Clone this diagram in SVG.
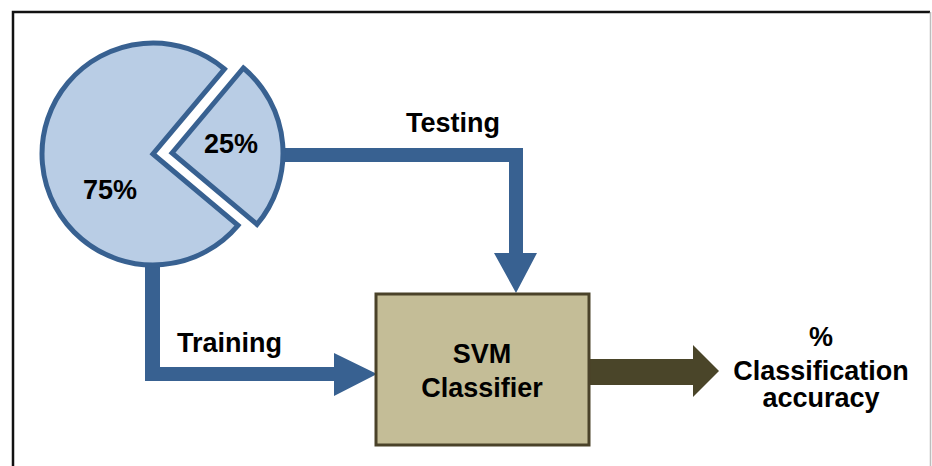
<svg xmlns="http://www.w3.org/2000/svg" width="932" height="466" viewBox="0 0 932 466">
<style>
.lbl{font-family:"Liberation Sans",Arial,sans-serif;font-weight:bold;font-size:27px;fill:#000}
.mid{text-anchor:middle}
.pie{fill:#b9cde5;stroke:#386191;stroke-width:5;stroke-linejoin:miter}
.blue{fill:#386191}
</style>
<rect x="0" y="0" width="932" height="466" fill="#fff"/>
<g id="frame">
<path d="M13,466 V12 H930" fill="none" stroke="#111" stroke-width="2.5"/>
<line x1="930.5" y1="12" x2="930.5" y2="466" stroke="#bdbdbd" stroke-width="1.5"/>
</g>
<g id="connectors">
<path class="blue" d="M278,148 H523 V253 H537 L516,293 L494,253 H509 V162 H278 Z"/>
<path class="blue" d="M145,258 H160 V367 H334 V353 L377,374 L334,396 V381 H145 Z"/>
<path d="M585,359 H693 V345 L719,371 L693,397 V385 H585 Z" fill="#4a4529"/>
</g>
<g id="pie">
<path class="pie" d="M153,154 L238,225.4 A111,111 0 1,1 224.4,69 Z"/>
<path class="pie" d="M172,153 L243.4,68 A111,111 0 0,1 257,224.4 Z"/>
<text class="lbl" x="83" y="199">75%</text>
<text class="lbl" x="204" y="153">25%</text>
</g>
<g id="labels">
<text class="lbl" x="406" y="132">Testing</text>
<text class="lbl" x="177" y="352">Training</text>
</g>
<g id="svm">
<rect x="376" y="294" width="213" height="151" fill="#c4bd97" stroke="#4a4229" stroke-width="3"/>
<text class="lbl mid" x="482" y="363">SVM</text>
<text class="lbl mid" x="482" y="397">Classifier</text>
</g>
<g id="output">
<text class="lbl mid" x="821" y="346">%</text>
<text class="lbl mid" x="821" y="380">Classification</text>
<text class="lbl mid" x="821" y="407">accuracy</text>
</g>
</svg>
